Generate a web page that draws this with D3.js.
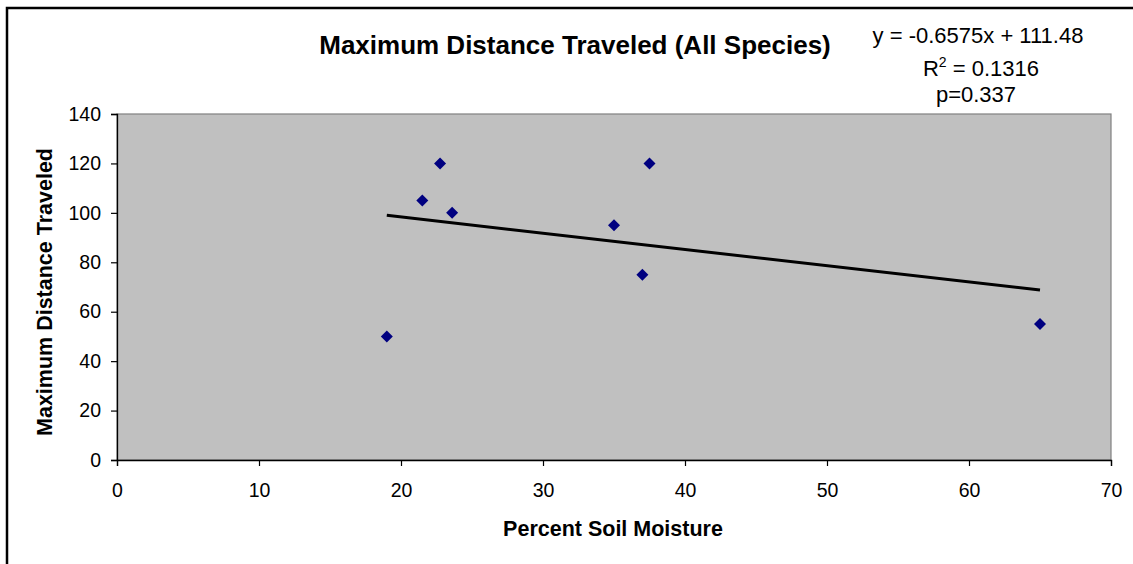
<!DOCTYPE html>
<html>
<head>
<meta charset="utf-8">
<script src="https://cdn.jsdelivr.net/npm/d3@7"></script>
<style>
  html, body { margin: 0; padding: 0; background: #fff; }
  svg { display: block; font-family: "Liberation Sans", Arial, sans-serif; }
</style>
</head>
<body>
<svg id="chart" width="1133" height="564"></svg>
<script>
// ---- data ----
const soilMoisture = [19, 21.5, 22.75, 23.6, 35, 37, 37.5, 65];
const maxDistance  = [50, 105, 120, 100, 95, 75, 120, 55];
const xTicks = [0, 10, 20, 30, 40, 50, 60, 70];
const yTicks = [0, 20, 40, 60, 80, 100, 120, 140];
const trendSlope = -0.6575;
const trendIntercept = 111.48;
const trendRange = [19, 65];
const chartTitle = "Maximum Distance Traveled (All Species)";
const xTitle = "Percent Soil Moisture";
const yTitle = "Maximum Distance Traveled";
const statLines = ["y = -0.6575x + 111.48", "R2 = 0.1316", "p=0.337"];

// ---- layout ----
const svg = d3.select("#chart");
const plot = { left: 117, top: 114, right: 1111, bottom: 460 };

// outer frame
svg.append("rect")
  .attr("x", 7).attr("y", 8).attr("width", 1140).attr("height", 570)
  .attr("fill", "#fff").attr("stroke", "#000").attr("stroke-width", 2.5);

const x = d3.scaleLinear().domain([0, 70]).range([plot.left, plot.right]);
const y = d3.scaleLinear().domain([0, 140]).range([plot.bottom, plot.top]);

// plot area
svg.append("rect")
  .attr("x", plot.left).attr("y", plot.top)
  .attr("width", plot.right - plot.left).attr("height", plot.bottom - plot.top)
  .attr("fill", "#c0c0c0").attr("stroke", "#808080").attr("stroke-width", 1.2);

// axes
const xAxis = svg.append("g")
  .attr("transform", `translate(0,${plot.bottom})`)
  .call(d3.axisBottom(x).tickValues(xTicks).tickSize(6).tickPadding(17).tickFormat(d3.format("d")));
const yAxis = svg.append("g")
  .attr("transform", `translate(${plot.left},0)`)
  .call(d3.axisLeft(y).tickValues(yTicks).tickSize(6).tickPadding(10).tickFormat(d3.format("d")));

[xAxis, yAxis].forEach(g => {
  g.select(".domain").attr("stroke", "#000").attr("stroke-width", 1.3);
  g.selectAll(".tick line").attr("stroke", "#000").attr("stroke-width", 1.2);
  g.selectAll(".tick text").attr("fill", "#000")
    .style("font-family", "'Liberation Sans', Arial, sans-serif").style("font-size", "19.5px");
});

// trend line
const line = d3.line().x(d => x(d)).y(d => y(trendSlope * d + trendIntercept));
svg.append("path")
  .datum(trendRange)
  .attr("d", line)
  .attr("fill", "none").attr("stroke", "#000").attr("stroke-width", 3);

// points (diamonds)
const diamond = d3.symbol().type(d3.symbolSquare).size(72);
svg.append("g").selectAll("path")
  .data(soilMoisture.map((v, i) => [v, maxDistance[i]]))
  .join("path")
  .attr("d", diamond)
  .attr("transform", d => `translate(${x(d[0])},${y(d[1])}) rotate(45)`)
  .attr("fill", "#000080");

// title
svg.append("text")
  .attr("x", 575).attr("y", 54)
  .attr("text-anchor", "middle")
  .style("font-size", "26px").style("font-weight", "bold")
  .text(chartTitle);

// axis titles
svg.append("text")
  .attr("x", 613).attr("y", 536)
  .attr("text-anchor", "middle")
  .style("font-size", "21.5px").style("font-weight", "bold")
  .text(xTitle);

svg.append("text")
  .attr("transform", "translate(52,292) rotate(-90)")
  .attr("text-anchor", "middle")
  .style("font-size", "21.5px").style("font-weight", "bold")
  .text(yTitle);

// regression stats
const statY = [43, 76, 102];
const stats = svg.append("g").style("font-size", "22px");
stats.append("text").attr("x", 978).attr("y", statY[0]).attr("text-anchor", "middle").text(statLines[0]);
const r2 = stats.append("text").attr("x", 981).attr("y", statY[1]).attr("text-anchor", "middle");
r2.append("tspan").text("R");
r2.append("tspan").attr("dy", -9).style("font-size", "14px").text("2");
r2.append("tspan").attr("dy", 9).text(" = 0.1316");
stats.append("text").attr("x", 976).attr("y", statY[2]).attr("text-anchor", "middle").text(statLines[2]);
</script>
</body>
</html>
